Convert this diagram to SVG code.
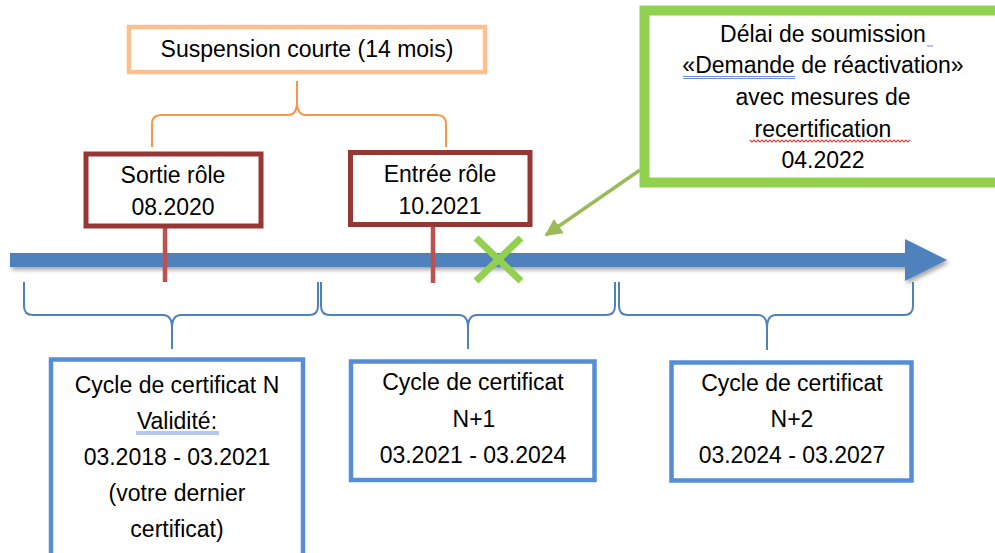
<svg xmlns="http://www.w3.org/2000/svg" width="995" height="553" viewBox="0 0 995 553">
<defs>
<style>
.t{font-family:"Liberation Sans",Arial,sans-serif;font-size:23px;fill:#000;text-anchor:middle}
.red{fill:#fff;stroke:#953735;stroke-width:5}
.blue{fill:#fff;stroke:#558ED5;stroke-width:4.5}
.bb{fill:none;stroke:#4F81BD;stroke-width:2}
.tick{stroke:#C0504D;stroke-width:4.5}
</style>
<filter id="sh" x="-5%" y="-100%" width="110%" height="300%">
<feDropShadow dx="2" dy="3" stdDeviation="2" flood-color="#000" flood-opacity="0.35"/>
</filter>
<marker id="ga" viewBox="0 0 10 10" refX="9" refY="5" markerWidth="5" markerHeight="5" orient="auto" markerUnits="strokeWidth">
<path d="M0,0 L10,5 L0,10 Z" fill="#9BBB59"/>
</marker>
</defs>
<rect width="995" height="553" fill="#fff"/>

<g id="timeline">
<path d="M10,253 L905,253 L905,239 L947,260 L905,281 L905,267 L10,267 Z" fill="#4F81BD" filter="url(#sh)"/>
</g>

<g id="connectors">
<path class="bb" d="M24,282 L24,306 Q24,315 33,315 L163,315 Q172,315 172,328 L172,349 M172,328 Q172,315 181,315 L309,315 Q318,315 318,306 L318,282"/>
<path class="bb" d="M321,282 L321,306 Q321,315 330,315 L459,315 Q468,315 468,328 L468,349 M468,328 Q468,315 477,315 L606,315 Q615,315 615,306 L615,282"/>
<path class="bb" d="M619,282 L619,306 Q619,315 628,315 L758,315 Q767,315 767,328 L767,350 M767,328 Q767,315 776,315 L904,315 Q913,315 913,306 L913,282"/>
<path d="M152,147 L152,124 Q152,115 161,115 L288,115 Q297,115 297,102 L297,81 M297,102 Q297,115 306,115 L437,115 Q446,115 446,124 L446,147" fill="none" stroke="#F79646" stroke-width="2"/>
<line class="tick" x1="165" y1="224" x2="165" y2="282"/>
<line class="tick" x1="433" y1="226" x2="433" y2="283"/>
<line x1="640" y1="170" x2="546" y2="235" stroke="#9BBB59" stroke-width="3.5" marker-end="url(#ga)"/>
<g id="cross" stroke="#92D050" stroke-width="7">
<line x1="476" y1="238" x2="521" y2="281"/>
<line x1="521" y1="238" x2="476" y2="281"/>
</g>
</g>

<g id="suspension">
<rect x="129" y="27" width="356" height="45" fill="#fff" stroke="#FAC090" stroke-width="4.5"/>
<text class="t" x="307" y="57">Suspension courte (14 mois)</text>
</g>

<g id="sortie">
<rect class="red" x="86" y="154" width="175" height="72"/>
<text class="t" x="173" y="183">Sortie rôle</text>
<text class="t" x="173" y="215">08.2020</text>
</g>

<g id="entree">
<rect class="red" x="350.5" y="152.5" width="179.5" height="72"/>
<text class="t" x="440" y="182">Entrée rôle</text>
<text class="t" x="440" y="214">10.2021</text>
</g>

<g id="delai">
<rect x="644.5" y="10.5" width="400" height="172" fill="#fff" stroke="#92D050" stroke-width="10"/>
<text class="t" x="823" y="42">Délai de soumission</text>
<text class="t" x="823" y="73">«Demande de réactivation»</text>
<text class="t" x="823" y="105">avec mesures de</text>
<text class="t" x="823" y="137">recertification</text>
<text class="t" x="823" y="168">04.2022</text>
<line x1="927" y1="46" x2="933" y2="46" stroke="#6F8FE0" stroke-width="1"/>
<path d="M683,76.5 L795,76.5 M683,78.5 L795,78.5" stroke="#6F8FE0" stroke-width="1" fill="none"/>
<path d="M750,140 l2,2 l2,-2 l2,2 l2,-2 l2,2 l2,-2 l2,2 l2,-2 l2,2 l2,-2 l2,2 l2,-2 l2,2 l2,-2 l2,2 l2,-2 l2,2 l2,-2 l2,2 l2,-2 l2,2 l2,-2 l2,2 l2,-2 l2,2 l2,-2 l2,2 l2,-2 l2,2 l2,-2 l2,2 l2,-2 l2,2 l2,-2 l2,2 l2,-2 l2,2 l2,-2 l2,2 l2,-2 l2,2 l2,-2 l2,2 l2,-2 l2,2 l2,-2 l2,2 l2,-2 l2,2 l2,-2 l2,2 l2,-2 l2,2 l2,-2 l2,2 l2,-2 l2,2 l2,-2 l2,2 l2,-2 l2,2 l2,-2 l2,2 l2,-2 l2,2 l2,-2 l2,2 l2,-2 l2,2 l2,-2 l2,2 l2,-2 l2,2 l2,-2 l2,2 l2,-2 l2,2 l2,-2 l2,2 l2,-2" stroke="#E03C3C" stroke-width="1.1" fill="none"/>
</g>

<g id="cycleN">
<rect class="blue" x="51" y="359.5" width="252" height="250"/>
<text class="t" x="177" y="393">Cycle de certificat N</text>
<text class="t" x="177" y="429">Validité:</text>
<text class="t" x="177" y="465">03.2018 - 03.2021</text>
<text class="t" x="177" y="501">(votre dernier</text>
<text class="t" x="177" y="537">certificat)</text>
<path d="M136,432 L219,432 M136,434 L219,434" stroke="#6F8FE0" stroke-width="1" fill="none"/>
</g>

<g id="cycleN1">
<rect class="blue" x="351" y="361.5" width="243.5" height="118.5"/>
<text class="t" x="473" y="390">Cycle de certificat</text>
<text class="t" x="474" y="427">N+1</text>
<text class="t" x="473" y="463">03.2021 - 03.2024</text>
</g>

<g id="cycleN2">
<rect class="blue" x="671.5" y="362.5" width="240" height="118"/>
<text class="t" x="792" y="391">Cycle de certificat</text>
<text class="t" x="792" y="427">N+2</text>
<text class="t" x="792" y="463">03.2024 - 03.2027</text>
</g>
</svg>
